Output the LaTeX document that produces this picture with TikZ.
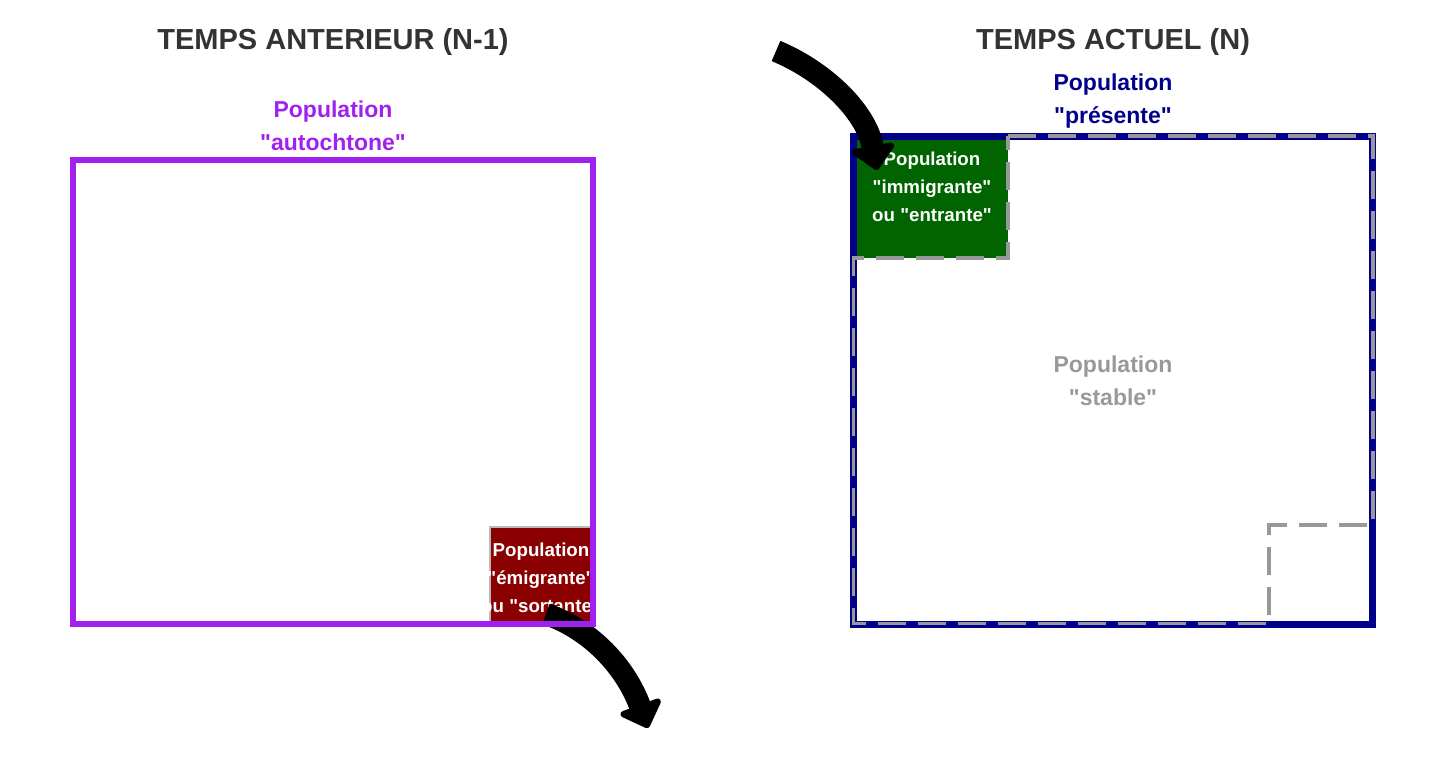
\documentclass[tikz,border=0pt]{standalone}
\usepackage{fontspec}
\setmainfont{Liberation Sans}[Ligatures=TeXOff]
\usetikzlibrary{arrows.meta}
\definecolor{popviolet}{HTML}{A020F0}
\definecolor{popmarine}{HTML}{00008B}
\definecolor{poprouge}{HTML}{8B0000}
\definecolor{popvert}{HTML}{006400}
\definecolor{popgris}{HTML}{999999}
\definecolor{titregris}{HTML}{333333}
\tikzstyle{titre}=[font=\fontsize{29}{34}\selectfont\bfseries, text=titregris]
\tikzstyle{etiquette}=[font=\fontsize{23}{33}\selectfont\bfseries, align=center]
\tikzstyle{boite}=[font=\fontsize{18.7}{28}\selectfont\bfseries, align=center, text=white]
\tikzstyle{fleche}=[line width=22pt, -{Triangle[length=26pt,width=50pt,round]}]
\tikzstyle{tirets}=[draw=popgris, line width=3.5pt, dash pattern=on 28pt off 12pt]

\begin{document}
\begin{tikzpicture}[x=1pt, y=-1pt]
                \useasboundingbox (0,0) rectangle (1440,768);
                % temps N-1
                \node[titre] (t1) at (333, 42) {TEMPS ANTERIEUR (N-1)};
                \node[etiquette, text=popviolet] (autoch) at (333, 125.5) {Population\\"autochtone"};
                \fill[poprouge] (489, 526) rectangle (590, 621);
                \draw[gray!55, line width=2pt] (490, 621) -- (490, 527) -- (590, 527);
                \begin{scope}
                    \clip (489, 526) rectangle (590, 621);
                    \node[boite] (emig) at (541, 578) {Population\\"émigrante"\\ou "sortante"};
                \end{scope}
                \coordinate (sortA) at (546, 614);
                \coordinate (sortB) at (648, 728);
                \draw[fleche] (sortA) .. controls (592, 630) and (626, 668) .. (sortB);
                \draw[popviolet, line width=6pt] (73, 160) rectangle (593, 624);
                % temps N
                \node[titre] (t2) at (1113, 42) {TEMPS ACTUEL (N)};
                \node[etiquette, text=popmarine] (present) at (1113, 101) {Population\\"présente"};
                \fill[popvert] (855, 138) rectangle (1008, 258);
                \node[boite] (immig) at (932, 187) {Population\\"immigrante"\\ou "entrante"};
                \node[etiquette, text=popgris] (stable) at (1113, 381) {Population\\"stable"};
                \draw[popmarine, line width=7pt] (853, 136.5) rectangle (1372, 624);
                \draw[tirets] (1008, 136) -- (1373, 136) -- (1373, 525) -- (1269, 525)
                    -- (1269, 623.5) -- (853.5, 623.5) -- (853.5, 258) -- (1008, 258) -- cycle;
                \coordinate (entA) at (776, 51);
                \coordinate (entB) at (877, 170);
                \draw[fleche] (entA) .. controls (822, 70) and (866, 110) .. (entB);
\end{tikzpicture}
\end{document}
